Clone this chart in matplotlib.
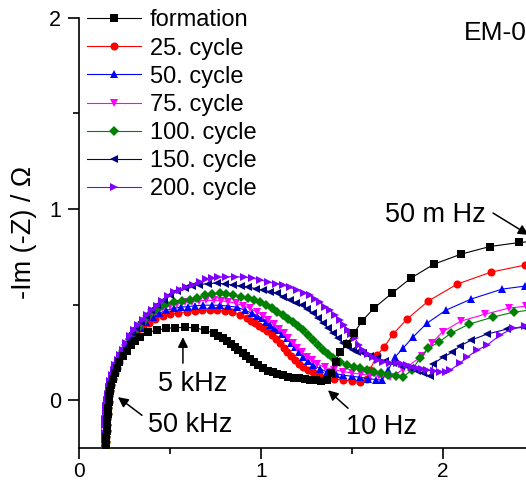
import matplotlib
matplotlib.use("Agg")
import matplotlib.pyplot as plt
from matplotlib.ticker import MultipleLocator

plt.rcParams['font.family'] = ['Liberation Sans', 'DejaVu Sans']

labels = ['formation', '25. cycle', '50. cycle', '75. cycle', '100. cycle', '150. cycle', '200. cycle']
colors = ['#000000', '#ff0000', '#0000ff', '#ff00ff', '#008000', '#000080', '#8000ff']
markers = ['s', 'o', '^', 'v', 'D', '<', '>']

# Re(Z) / Ohm and -Im(Z) / Ohm
formation_re = [0.150, 0.150, 0.151, 0.152, 0.153, 0.155, 0.157, 0.160, 0.163, 0.167, 0.172, 0.178, 0.186, 0.196,
                0.208, 0.222, 0.240, 0.262, 0.285, 0.310, 0.335, 0.380, 0.430, 0.480, 0.530, 0.580, 0.640, 0.690,
                0.740, 0.765, 0.790, 0.815, 0.835, 0.855, 0.875, 0.900, 0.920, 0.940, 0.960, 0.985, 1.010, 1.040,
                1.065, 1.090, 1.120, 1.150, 1.180, 1.210, 1.240, 1.270, 1.300, 1.330, 1.360, 1.385, 1.410, 1.434,
                1.473, 1.511, 1.555, 1.621, 1.720, 1.824, 1.951, 2.099, 2.258, 2.420, 2.600]
formation_im = [-0.25, -0.22, -0.19, -0.16, -0.13, -0.10, -0.07, -0.04, -0.01, 0.02, 0.05, 0.08, 0.11, 0.14,
                0.17, 0.20, 0.23, 0.26, 0.29, 0.31, 0.33, 0.356, 0.366, 0.377, 0.378, 0.382, 0.378, 0.367,
                0.350, 0.338, 0.325, 0.308, 0.295, 0.280, 0.265, 0.246, 0.230, 0.215, 0.200, 0.185, 0.168, 0.155,
                0.145, 0.138, 0.130, 0.122, 0.118, 0.115, 0.112, 0.108, 0.105, 0.103, 0.105, 0.140, 0.200, 0.251,
                0.293, 0.351, 0.414, 0.482, 0.560, 0.639, 0.712, 0.764, 0.804, 0.825, 0.840]

c25_re = [0.150, 0.150, 0.151, 0.152, 0.153, 0.155, 0.157, 0.160, 0.163, 0.167, 0.172, 0.178, 0.186, 0.196,
          0.207, 0.220, 0.235, 0.252, 0.272, 0.295, 0.320, 0.350, 0.385, 0.420, 0.460, 0.500, 0.545, 0.593,
          0.635, 0.676, 0.717, 0.758, 0.800, 0.841, 0.883, 0.923, 0.945, 0.967, 0.990, 1.011, 1.035, 1.060,
          1.082, 1.104, 1.124, 1.143, 1.165, 1.187, 1.210, 1.231, 1.258, 1.286, 1.320, 1.363, 1.400, 1.451,
          1.500, 1.544, 1.580, 1.600, 1.636, 1.676, 1.725, 1.802, 1.918, 2.077, 2.264, 2.451, 2.650]
c25_im = [-0.25, -0.22, -0.19, -0.16, -0.13, -0.10, -0.07, -0.04, -0.01, 0.02, 0.05, 0.08, 0.11, 0.14,
          0.17, 0.20, 0.23, 0.26, 0.29, 0.32, 0.35, 0.38, 0.405, 0.425, 0.44, 0.45, 0.458, 0.461,
          0.466, 0.471, 0.471, 0.471, 0.467, 0.461, 0.445, 0.429, 0.416, 0.403, 0.390, 0.377, 0.360, 0.340,
          0.320, 0.298, 0.275, 0.251, 0.230, 0.209, 0.190, 0.173, 0.160, 0.147, 0.135, 0.120, 0.112, 0.105,
          0.100, 0.094, 0.110, 0.160, 0.236, 0.277, 0.346, 0.424, 0.518, 0.607, 0.670, 0.707, 0.730]

c50_re = [0.150, 0.150, 0.151, 0.152, 0.153, 0.155, 0.157, 0.160, 0.163, 0.167, 0.172, 0.178, 0.186, 0.196,
          0.207, 0.220, 0.234, 0.250, 0.268, 0.290, 0.313, 0.340, 0.370, 0.405, 0.440, 0.480, 0.520, 0.560,
          0.600, 0.640, 0.681, 0.728, 0.775, 0.820, 0.868, 0.910, 0.951, 0.978, 1.005, 1.027, 1.049, 1.071,
          1.093, 1.118, 1.143, 1.165, 1.187, 1.210, 1.231, 1.258, 1.286, 1.325, 1.363, 1.410, 1.451, 1.500,
          1.544, 1.590, 1.630, 1.665, 1.700, 1.736, 1.780, 1.835, 1.912, 2.016, 2.154, 2.324, 2.451, 2.600]
c50_im = [-0.25, -0.22, -0.19, -0.16, -0.13, -0.10, -0.07, -0.04, -0.01, 0.02, 0.05, 0.08, 0.11, 0.14,
          0.17, 0.20, 0.23, 0.26, 0.29, 0.32, 0.35, 0.38, 0.41, 0.435, 0.455, 0.47, 0.48, 0.487,
          0.490, 0.494, 0.497, 0.497, 0.497, 0.492, 0.487, 0.471, 0.455, 0.442, 0.429, 0.411, 0.393, 0.380,
          0.366, 0.345, 0.325, 0.300, 0.277, 0.250, 0.225, 0.204, 0.183, 0.165, 0.147, 0.139, 0.131, 0.125,
          0.120, 0.113, 0.108, 0.105, 0.160, 0.225, 0.272, 0.330, 0.403, 0.471, 0.529, 0.581, 0.597, 0.620]

c75_re = [0.150, 0.150, 0.151, 0.152, 0.153, 0.155, 0.157, 0.160, 0.163, 0.167, 0.172, 0.178, 0.186, 0.196,
          0.207, 0.219, 0.232, 0.248, 0.265, 0.285, 0.307, 0.333, 0.360, 0.390, 0.425, 0.460, 0.500, 0.540,
          0.580, 0.620, 0.660, 0.700, 0.740, 0.780, 0.820, 0.860, 0.900, 0.940, 0.978, 1.010, 1.040, 1.070,
          1.100, 1.125, 1.150, 1.175, 1.200, 1.225, 1.250, 1.280, 1.310, 1.350, 1.400, 1.450, 1.500, 1.550,
          1.600, 1.650, 1.710, 1.780, 1.883, 1.940, 1.998, 2.099, 2.231, 2.363, 2.456, 2.600]
c75_im = [-0.25, -0.22, -0.19, -0.16, -0.13, -0.10, -0.07, -0.04, -0.01, 0.02, 0.05, 0.08, 0.11, 0.14,
          0.17, 0.20, 0.23, 0.26, 0.29, 0.32, 0.35, 0.38, 0.41, 0.435, 0.46, 0.48, 0.495, 0.505,
          0.512, 0.516, 0.520, 0.522, 0.522, 0.520, 0.515, 0.507, 0.495, 0.480, 0.461, 0.440, 0.420, 0.400,
          0.375, 0.350, 0.325, 0.300, 0.275, 0.250, 0.228, 0.208, 0.190, 0.172, 0.160, 0.150, 0.142, 0.136,
          0.130, 0.125, 0.120, 0.160, 0.230, 0.300, 0.358, 0.414, 0.450, 0.482, 0.492, 0.510]

c100_re = [0.150, 0.150, 0.151, 0.152, 0.153, 0.155, 0.157, 0.160, 0.163, 0.167, 0.172, 0.178, 0.186, 0.195,
           0.205, 0.216, 0.228, 0.243, 0.260, 0.278, 0.300, 0.323, 0.350, 0.378, 0.410, 0.445, 0.480, 0.520,
           0.565, 0.610, 0.650, 0.692, 0.733, 0.775, 0.810, 0.846, 0.888, 0.929, 0.962, 0.995, 1.028, 1.060,
           1.090, 1.121, 1.148, 1.176, 1.203, 1.231, 1.258, 1.286, 1.313, 1.341, 1.368, 1.396, 1.435, 1.473,
           1.510, 1.544, 1.580, 1.620, 1.660, 1.700, 1.740, 1.780, 1.830, 1.874, 1.918, 1.978, 2.044, 2.143,
           2.275, 2.390, 2.550]
c100_im = [-0.25, -0.22, -0.19, -0.16, -0.13, -0.10, -0.07, -0.04, -0.01, 0.02, 0.05, 0.08, 0.11, 0.14,
           0.17, 0.20, 0.23, 0.26, 0.29, 0.32, 0.35, 0.38, 0.41, 0.44, 0.465, 0.49, 0.505, 0.515,
           0.520, 0.524, 0.537, 0.550, 0.555, 0.560, 0.555, 0.550, 0.542, 0.534, 0.524, 0.513, 0.498, 0.482,
           0.464, 0.445, 0.427, 0.408, 0.387, 0.366, 0.340, 0.314, 0.288, 0.262, 0.240, 0.220, 0.200, 0.183,
           0.175, 0.168, 0.160, 0.150, 0.140, 0.130, 0.125, 0.120, 0.160, 0.220, 0.272, 0.304, 0.351, 0.398,
           0.435, 0.461, 0.480]

c150_re = [0.150, 0.149, 0.149, 0.150, 0.151, 0.152, 0.154, 0.157, 0.160, 0.164, 0.169, 0.175, 0.182, 0.191,
           0.201, 0.213, 0.226, 0.240, 0.256, 0.273, 0.293, 0.315, 0.340, 0.367, 0.397, 0.430, 0.465, 0.500,
           0.540, 0.580, 0.620, 0.660, 0.710, 0.758, 0.800, 0.846, 0.888, 0.929, 0.970, 1.011, 1.050, 1.088,
           1.123, 1.159, 1.190, 1.225, 1.255, 1.286, 1.313, 1.341, 1.368, 1.396, 1.423, 1.451, 1.478, 1.505,
           1.530, 1.560, 1.600, 1.637, 1.680, 1.725, 1.770, 1.819, 1.855, 1.890, 1.930, 1.945, 2.000, 2.050,
           2.093, 2.154, 2.242, 2.352, 2.445, 2.600]
c150_im = [-0.25, -0.22, -0.19, -0.16, -0.13, -0.10, -0.07, -0.04, -0.01, 0.02, 0.05, 0.08, 0.11, 0.14,
           0.17, 0.20, 0.23, 0.26, 0.29, 0.32, 0.35, 0.38, 0.41, 0.44, 0.47, 0.50, 0.525, 0.55,
           0.570, 0.585, 0.597, 0.605, 0.610, 0.613, 0.608, 0.602, 0.597, 0.592, 0.584, 0.576, 0.568, 0.560,
           0.542, 0.524, 0.510, 0.497, 0.476, 0.455, 0.429, 0.403, 0.377, 0.351, 0.325, 0.298, 0.280, 0.262,
           0.254, 0.246, 0.233, 0.220, 0.207, 0.194, 0.180, 0.168, 0.155, 0.141, 0.125, 0.190, 0.225, 0.250,
           0.283, 0.314, 0.346, 0.372, 0.382, 0.400]

c200_re = [0.143, 0.143, 0.143, 0.143, 0.143, 0.146, 0.149, 0.155, 0.160, 0.165, 0.172, 0.180, 0.190, 0.200,
           0.212, 0.225, 0.240, 0.260, 0.280, 0.300, 0.325, 0.350, 0.375, 0.400, 0.428, 0.455, 0.487, 0.520,
           0.555, 0.590, 0.628, 0.665, 0.700, 0.730, 0.764, 0.810, 0.857, 0.905, 0.951, 0.995, 1.038, 1.080,
           1.121, 1.160, 1.198, 1.235, 1.269, 1.297, 1.324, 1.352, 1.379, 1.407, 1.434, 1.456, 1.478, 1.497,
           1.516, 1.538, 1.560, 1.588, 1.615, 1.642, 1.670, 1.710, 1.747, 1.775, 1.802, 1.830, 1.857, 1.885,
           1.912, 1.950, 1.984, 2.015, 2.040, 2.093, 2.132, 2.187, 2.242, 2.313, 2.385, 2.450, 2.600]
c200_im = [-0.25, -0.21, -0.17, -0.13, -0.10, -0.06, -0.03, 0.00, 0.035, 0.07, 0.10, 0.13, 0.157, 0.185,
           0.21, 0.235, 0.265, 0.30, 0.335, 0.366, 0.395, 0.42, 0.445, 0.47, 0.495, 0.52, 0.543, 0.565,
           0.578, 0.590, 0.605, 0.620, 0.632, 0.640, 0.644, 0.646, 0.646, 0.644, 0.639, 0.630, 0.618, 0.610,
           0.602, 0.590, 0.576, 0.563, 0.550, 0.530, 0.513, 0.490, 0.471, 0.445, 0.419, 0.393, 0.366, 0.345,
           0.325, 0.290, 0.262, 0.240, 0.225, 0.210, 0.199, 0.196, 0.194, 0.188, 0.183, 0.175, 0.168, 0.162,
           0.157, 0.152, 0.147, 0.150, 0.157, 0.194, 0.225, 0.262, 0.288, 0.340, 0.377, 0.387, 0.410]

series_re = [formation_re, c25_re, c50_re, c75_re, c100_re, c150_re, c200_re]
series_im = [formation_im, c25_im, c50_im, c75_im, c100_im, c150_im, c200_im]

fig = plt.figure(figsize=(5.26, 4.86), dpi=100)
ax = fig.add_axes([0.1502, 0.0782, 0.8498, 0.885])

for i in range(len(labels)):
    ms = {'s': 5.6, 'o': 5.8, 'D': 5.0}.get(markers[i], 6.2)
    ax.plot(series_re[i], series_im[i], color=colors[i], marker=markers[i], markersize=ms,
            markeredgewidth=0, lw=0.8, label=labels[i], zorder=10 if i == 0 else 3 + i)

ax.set_xlim(0, 2.456)
ax.set_ylim(-0.25, 2.0)
ax.xaxis.set_major_locator(MultipleLocator(1))
ax.xaxis.set_minor_locator(MultipleLocator(0.5))
ax.yaxis.set_major_locator(MultipleLocator(1))
ax.yaxis.set_minor_locator(MultipleLocator(0.5))
ax.spines['top'].set_visible(False)
ax.spines['right'].set_visible(False)
for s in ['left', 'bottom']:
    ax.spines[s].set_linewidth(1.2)
ax.tick_params(which='major', direction='out', length=8, width=1.2, labelsize=15.5, pad=5)
ax.tick_params(which='minor', direction='out', length=4, width=1.2)
ax.tick_params(axis='x', which='major', labelsize=15, pad=2)

ax.set_ylabel('-Im (-Z) / Ω', fontsize=19.5)
ax.yaxis.set_label_coords(-0.093, 0.5)

ax.text(2.115, 1.92, 'EM-0', fontsize=19, ha='left', va='center')

arrow = dict(arrowstyle='-|>', color='k', lw=1.1, mutation_scale=15, shrinkA=0, shrinkB=0)
ax.annotate('', xy=(2.47, 0.865), xytext=(2.275, 0.979), arrowprops=arrow, annotation_clip=False)
ax.text(1.956, 0.969, '50 m Hz', fontsize=19.5, ha='center', va='center')
ax.annotate('', xy=(0.571, 0.33), xytext=(0.571, 0.194), arrowprops=arrow)
ax.text(0.626, 0.084, '5 kHz', fontsize=19.5, ha='center', va='center')
ax.annotate('', xy=(0.214, 0.016), xytext=(0.346, -0.079), arrowprops=arrow)
ax.text(0.61, -0.131, '50 kHz', fontsize=19.5, ha='center', va='center')
ax.annotate('', xy=(1.368, 0.052), xytext=(1.478, -0.042), arrowprops=arrow)
ax.text(1.66, -0.141, '10 Hz', fontsize=19.5, ha='center', va='center')

ax.legend(loc='upper left', bbox_to_anchor=(87 / 526, 1 - 9.4 / 486), bbox_transform=fig.transFigure,
          frameon=False, fontsize=17, numpoints=1, handlelength=2.3, handletextpad=0.35,
          labelspacing=0.26, borderpad=0, borderaxespad=0)

fig.savefig('out.png', dpi=100)
